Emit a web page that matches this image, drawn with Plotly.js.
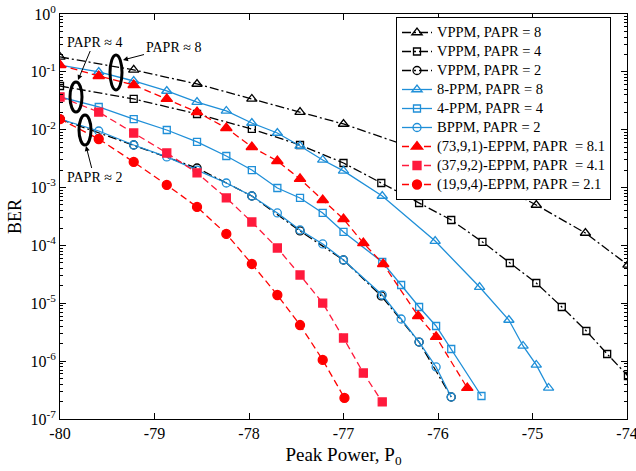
<!DOCTYPE html>
<html><head><meta charset="utf-8">
<script src="https://cdn.plot.ly/plotly-3.0.1.min.js"></script>
<style>body{margin:0;background:#fff}#c{width:636px;height:471px}
.legendtext{font-size:14.5px !important}</style>
</head><body><div id="c"></div>
<script>
// ---- data ----
const xVPPM8 = [-80, -79.22, -78.55, -77.97, -77.46, -77.0, -76.2, -75.53, -74.96, -74.44, -73.99];
const yVPPM8 = [0.181, 0.108, 0.0617, 0.034, 0.0202, 0.01256, 0.00446, 0.00152, 5.0e-4, 1.64e-4, 4.6e-5];

const xVPPM4 = [-80, -79.22, -78.55, -77.97, -77.46, -77.0, -76.6, -76.2, -75.86, -75.53, -75.24, -74.96, -74.69, -74.43, -74.21, -73.99];
const yVPPM4 = [0.057, 0.034, 0.0187, 0.0103, 0.00544, 0.00266, 0.0012, 5.41e-4, 2.75e-4, 1.15e-4, 4.97e-5, 2.24e-5, 8.63e-6, 3.32e-6, 1.33e-6, 5.54e-7];

const xVPPM2 = [-80, -79.22, -78.55, -77.97, -77.46, -77.0, -76.6, -76.2, -75.86];
const yVPPM2 = [0.0153, 0.00544, 0.00218, 7.15e-4, 1.78e-4, 5.6e-5, 1.34e-5, 2.14e-6, 2.4e-7];

const xPPM8 = [-80, -79.59, -79.22, -78.87, -78.55, -78.24, -77.97, -77.70, -77.46, -77.22, -77.0, -76.59, -76.03, -75.56, -75.25, -75.10, -74.96, -74.83];
const yPPM8 = [0.131, 0.0995, 0.0695, 0.0467, 0.0301, 0.0211, 0.01306, 0.00877, 0.00523, 0.0030, 0.00194, 7.15e-4, 1.19e-4, 1.91e-5, 5.14e-6, 1.83e-6, 8.59e-7, 3.44e-7];

const xPPM4 = [-80, -79.59, -79.22, -78.87, -78.55, -78.24, -77.97, -77.70, -77.46, -77.22, -77.0, -76.59, -76.39, -76.2, -76.02, -75.86, -75.54];
const yPPM4 = [0.0368, 0.0247, 0.0153, 0.00989, 0.00614, 0.00351, 0.00201, 9.84e-4, 6.61e-4, 3.64e-4, 1.71e-4, 5.17e-5, 2.07e-5, 8.63e-6, 4.05e-6, 1.62e-6, 2.5e-7];

const xBPPM = [-80, -79.59, -79.22, -78.87, -78.55, -78.24, -77.97, -77.70, -77.46, -77.22, -77.0, -76.59, -76.39, -76.2, -76.02, -75.86];
const yBPPM = [0.0153, 0.0095, 0.00544, 0.00338, 0.00201, 0.0012, 7.15e-4, 3.64e-4, 1.85e-4, 1.06e-4, 5.6e-5, 1.39e-5, 5.35e-6, 2.14e-6, 7.93e-7, 2.4e-7];

const xE8 = [-80, -79.59, -79.22, -78.87, -78.55, -78.24, -77.97, -77.70, -77.46, -77.22, -77.0, -76.79, -76.58, -76.21, -76.02, -75.69];
const yE8 = [0.131, 0.0848, 0.0593, 0.034, 0.0202, 0.0107, 0.00503, 0.00288, 0.00141, 6.1e-4, 2.86e-4, 1.1e-4, 4.78e-5, 6.03e-6, 2.62e-6, 3.44e-7];

const xE4 = [-80, -79.59, -79.22, -78.87, -78.55, -78.24, -77.97, -77.70, -77.46, -77.22, -77.0, -76.79, -76.59];
const yE4 = [0.0368, 0.0202, 0.00877, 0.00396, 0.00179, 6.61e-4, 2.54e-4, 9.03e-5, 3.08e-5, 1.01e-5, 2.51e-6, 6.24e-7, 1.97e-7];

const xE2 = [-80, -79.59, -79.22, -78.87, -78.55, -78.24, -77.97, -77.70, -77.46, -77.22, -76.99];
const yE2 = [0.0153, 0.00691, 0.00277, 0.00111, 4.62e-4, 1.58e-4, 4.78e-5, 1.39e-5, 4.21e-6, 1.05e-6, 2.31e-7];

const seriesNames = [
  'VPPM, PAPR = 8', 'VPPM, PAPR = 4', 'VPPM, PAPR = 2',
  '8-PPM, PAPR = 8', '4-PPM, PAPR = 4', 'BPPM, PAPR = 2',
  '(73,9,1)-EPPM, PAPR\u00a0 = 8.1', '(37,9,2)-EPPM, PAPR\u00a0 = 4.1', '(19,9,4)-EPPM, PAPR = 2.1'
];

const xTicks = [-80, -79, -78, -77, -76, -75, -74];
const yTicks = [1, 1e-1, 1e-2, 1e-3, 1e-4, 1e-5, 1e-6, 1e-7];
const yTickText = ['10<sup>0</sup>', '10<sup>-1</sup>', '10<sup>-2</sup>', '10<sup>-3</sup>', '10<sup>-4</sup>', '10<sup>-5</sup>', '10<sup>-6</sup>', '10<sup>-7</sup>'];
const minorMult = [2, 3, 4, 5, 6, 7, 8, 9];
const yMinorTicks = yTicks.slice(1).flatMap(d => minorMult.map(k => k * d));

// ---- styles ----
const BLACK = '#000000', BLUE = '#1f8fd8', RED = '#ff0000', RED2 = '#ff1a3c';
const dashDot = '9px,3px,2px,3px', dashed = '7px,4px';

function tr(x, y, name, color, dash, sym, size, width) {
  return {
    x: x, y: y, name: name, type: 'scatter', mode: 'lines+markers',
    line: {color: color, dash: dash, width: width || 1.3},
    marker: {symbol: sym, size: size, color: color, line: {color: color, width: 1.3}}
  };
}

const data = [
  tr(xVPPM8, yVPPM8, seriesNames[0], BLACK, dashDot, 'triangle-up-open', 9),
  tr(xVPPM4, yVPPM4, seriesNames[1], BLACK, dashDot, 'square-open', 7),
  tr(xVPPM2, yVPPM2, seriesNames[2], BLACK, dashDot, 'circle-open', 8),
  tr(xPPM8, yPPM8, seriesNames[3], BLUE, 'solid', 'triangle-up-open', 9),
  tr(xPPM4, yPPM4, seriesNames[4], BLUE, 'solid', 'square-open', 7),
  tr(xBPPM, yBPPM, seriesNames[5], BLUE, 'solid', 'circle-open', 8),
  tr(xE8, yE8, seriesNames[6], RED, dashed, 'triangle-up', 10),
  tr(xE4, yE4, seriesNames[7], RED2, dashed, 'square', 8),
  tr(xE2, yE2, seriesNames[8], RED, dashed, 'circle', 9)
];

const FONT = 'Liberation Serif, Times New Roman, serif';
const L = 60, R = 627, T = 14, B = 419, W = 636, H = 471;
function px(p) { return (p - L) / (R - L); }
function py(p) { return (B - p) / (B - T); }

const ellipses = [[110, 55, 122, 90], [70, 82, 82, 112], [79, 115, 91, 145]];
const shapes = ellipses.map(e => ({
  type: 'circle', xref: 'paper', yref: 'paper',
  x0: px(e[0]), x1: px(e[2]), y0: py(e[3]), y1: py(e[1]),
  line: {color: 'black', width: 3}
}));

const annots = [
  {text: 'PAPR \u2248 8', hx: 123, hy: 60, ax: 50, ay: -13},
  {text: 'PAPR \u2248 4', hx: 78, hy: 80, ax: 16, ay: -38},
  {text: 'PAPR \u2248 2', hx: 86, hy: 146, ax: 8, ay: 31}
].map(a => ({
  xref: 'paper', yref: 'paper', x: px(a.hx), y: py(a.hy), ax: a.ax, ay: a.ay,
  text: a.text, showarrow: true, arrowhead: 2, arrowsize: 1, arrowwidth: 1,
  arrowcolor: 'black', font: {family: FONT, size: 14, color: 'black'}
}));

const layout = {
  width: W, height: H,
  margin: {l: L, r: W - R, t: T, b: H - B},
  paper_bgcolor: 'white', plot_bgcolor: 'white',
  font: {family: FONT, color: 'black'},
  showlegend: true,
  legend: {
    x: px(396), y: py(17), xanchor: 'left', yanchor: 'top',
    bgcolor: 'white', bordercolor: 'black', borderwidth: 1,
    font: {family: FONT, size: 10.8, color: 'black'},
    tracegroupgap: 0, itemwidth: 30
  },
  xaxis: {
    range: [-80, -74], tickmode: 'array', tickvals: xTicks, ticktext: xTicks.map(String),
    ticks: 'inside', ticklen: 6, tickcolor: 'black', showline: true, linecolor: 'black', linewidth: 1,
    mirror: 'ticks', showgrid: false, zeroline: false, ticklabeloverflow: 'allow',
    tickfont: {family: FONT, size: 16, color: 'black'},
    title: {text: 'Peak Power, P<sub>0</sub>', font: {family: FONT, size: 19, color: 'black'}, standoff: 6}
  },
  yaxis: {
    type: 'log', range: [-7, 0], tickmode: 'array', tickvals: yTicks, ticktext: yTickText,
    ticks: 'inside', ticklen: 6, tickcolor: 'black', showline: true, linecolor: 'black', linewidth: 1,
    mirror: 'ticks', showgrid: false, zeroline: false, ticklabeloverflow: 'allow',
    minor: {ticks: 'inside', ticklen: 3, tickmode: 'array', tickvals: yMinorTicks, tickcolor: 'black', tickwidth: 1, showgrid: false},
    tickfont: {family: FONT, size: 16, color: 'black'},
    title: {text: 'BER', font: {family: FONT, size: 18, color: 'black'}, standoff: 4}
  },
  shapes: shapes,
  annotations: annots
};

Plotly.newPlot('c', data, layout, {displayModeBar: false, staticPlot: true});
</script>
</body></html>
